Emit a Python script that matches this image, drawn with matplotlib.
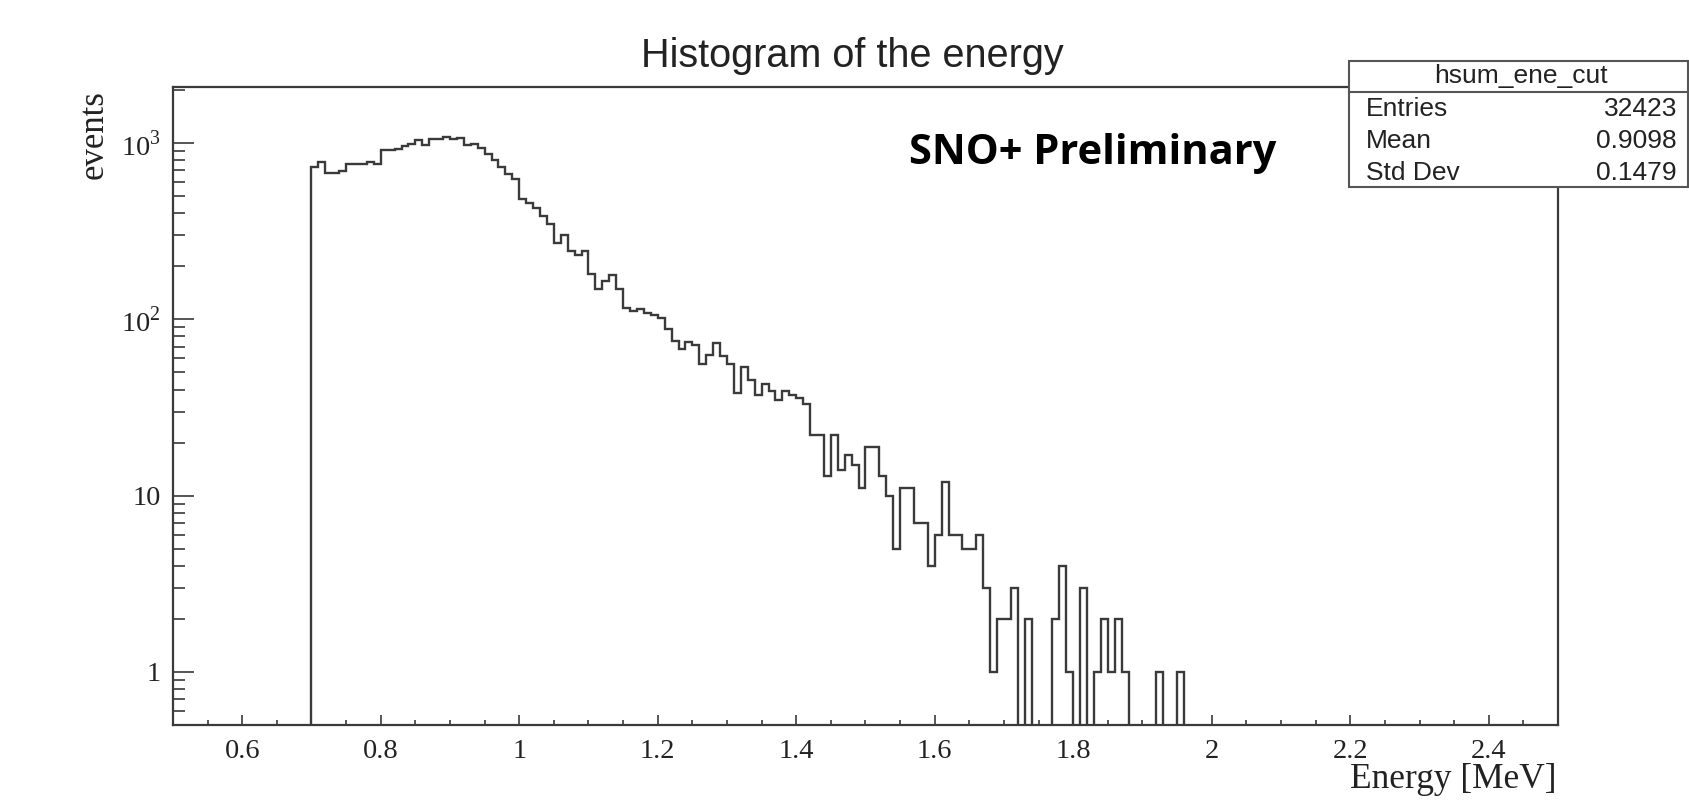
import numpy as np
import matplotlib.pyplot as plt
from matplotlib.patches import Rectangle
from matplotlib.lines import Line2D
from matplotlib.ticker import MultipleLocator, LogLocator, FixedLocator, FixedFormatter, NullFormatter

plt.rcParams['mathtext.fontset'] = 'custom'
plt.rcParams['mathtext.rm'] = 'Liberation Serif'

# histogram contents: bins of 0.01 MeV starting at 0.70 MeV
bin_lo = 0.70
bin_width = 0.01
counts = np.array([
    733, 776, 678, 678, 696, 757, 757, 757, 783, 765,       # 0.70
    912, 912, 930, 961, 990, 1040, 970, 1054, 1054, 1086,   # 0.80
    1054, 1075, 976, 987, 940, 865, 800, 735, 670, 622,     # 0.90
    482, 460, 430, 388, 347, 270, 300, 244, 231, 244,       # 1.00
    181, 148, 165, 178, 149, 116, 112, 115, 108, 106,       # 1.10
    102, 88, 75, 68, 74, 72, 56, 63, 73, 62,                # 1.20
    56, 38, 54, 45, 37, 43, 39, 35, 39, 37,                 # 1.30
    36, 33, 22, 22, 13, 22, 14, 17, 15, 11,                 # 1.40
    19, 19, 13, 10, 5, 11, 11, 7, 7, 4,                     # 1.50
    6, 12, 6, 6, 5, 5, 6, 3, 1, 2,                          # 1.60
    2, 3, 0, 2, 0, 0, 0, 2, 4, 1,                           # 1.70
    0, 3, 0, 1, 2, 1, 2, 1, 0, 0,                           # 1.80
    0, 0, 1, 0, 0, 1,                                       # 1.90
])

hist_name = 'hsum_ene_cut'
stat_names = ['Entries', 'Mean', 'Std Dev']
stat_values = ['32423', '0.9098', '0.1479']

y_ticks = [1, 10, 100, 1000]
y_tick_labels = ['1', '10', '10$^{2}$', '10$^{3}$']

W, H = 1690, 800


def fx(px):
    return px / W


def fy(py):
    return 1 - py / H


line_col = '#3a3a3a'
serif = 'Liberation Serif'
sans = 'Liberation Sans'

fig = plt.figure(figsize=(W / 100, H / 100), dpi=100)
ax = fig.add_axes([fx(173), fy(725), fx(1558) - fx(173), fy(87) - fy(725)])

edges = bin_lo + bin_width * np.arange(len(counts) + 1)
floor = 1e-3  # empty bins drop below the frame like in ROOT
ax.stairs(np.where(counts > 0, counts, floor), edges, baseline=floor,
          color=line_col, lw=1.7)

ax.set_yscale('log')
ax.set_xlim(0.5, 2.5)
ax.set_ylim(0.5, 2080)

ax.xaxis.set_major_locator(MultipleLocator(0.2))
ax.xaxis.set_minor_locator(MultipleLocator(0.05))
ax.xaxis.set_major_formatter(plt.FuncFormatter(lambda v, p: f'{v:g}'))
ax.yaxis.set_major_locator(FixedLocator(y_ticks))
ax.yaxis.set_major_formatter(FixedFormatter(y_tick_labels))
ax.yaxis.set_minor_locator(LogLocator(base=10, subs=np.arange(2, 10)))
ax.yaxis.set_minor_formatter(NullFormatter())

ax.tick_params(axis='both', which='both', direction='in', color=line_col, width=1.2,
               top=False, right=False)
ax.tick_params(axis='x', which='major', length=7.5, pad=10)
ax.tick_params(axis='x', which='minor', length=3.8)
ax.tick_params(axis='y', which='major', length=15, pad=9)
ax.tick_params(axis='y', which='minor', length=8.5)
for lab in ax.get_xticklabels() + ax.get_yticklabels():
    lab.set_fontfamily(serif)
    lab.set_fontsize(20.5)
    lab.set_color('#222222')

for s in ax.spines.values():
    s.set_color(line_col)
    s.set_linewidth(1.6)

fig.text(fx(852), fy(56), 'Histogram of the energy', ha='center', va='center',
         fontsize=28.5, family=sans, color='#222222')
fig.text(fx(1557), fy(780), 'Energy [MeV]', ha='right', va='center',
         fontsize=25.5, family=serif, color='#222222')
fig.text(fx(94), fy(90), 'events', ha='center', va='top', rotation=90,
         fontsize=25, family=serif, color='#222222')
fig.text(fx(1093), fy(153), 'SNO+ Preliminary', ha='center', va='center',
         fontsize=30, family='Open Sans', weight='bold', color='black')

# statistics box
box_l, box_r, box_t, box_b, box_h = 1349, 1688, 61, 187, 92
fig.add_artist(Rectangle((fx(box_l), fy(box_b)), fx(box_r) - fx(box_l), fy(box_t) - fy(box_b),
                         transform=fig.transFigure, facecolor='white', edgecolor='#555555',
                         lw=1.5, zorder=5))
fig.add_artist(Line2D([fx(box_l), fx(box_r)], [fy(box_h), fy(box_h)], transform=fig.transFigure,
                      color='#555555', lw=1.5, zorder=6))
fig.text(fx(1521), fy(76), hist_name, ha='center', va='center', fontsize=19,
         family=sans, color='#222222', zorder=7)
for i, (name, val) in enumerate(zip(stat_names, stat_values)):
    yy = fy(109 + 32 * i)
    fig.text(fx(1366), yy, name, ha='left', va='center', fontsize=19, family=sans,
             color='#222222', zorder=7)
    fig.text(fx(1677), yy, val, ha='right', va='center', fontsize=19, family=sans,
             color='#222222', zorder=7)

fig.savefig('out.png', dpi=100, facecolor='white')
